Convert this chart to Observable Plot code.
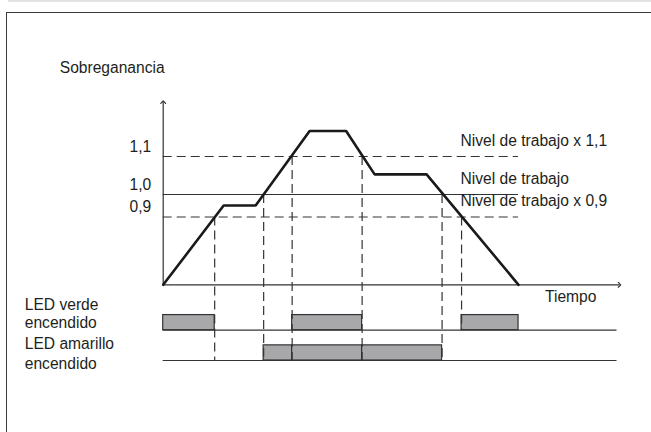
<!DOCTYPE html>
<html>
<head>
<meta charset="utf-8">
<script src="https://cdn.jsdelivr.net/npm/d3@7"></script>
<script src="https://cdn.jsdelivr.net/npm/@observablehq/plot@0.6"></script>
<style>
  html, body { margin: 0; padding: 0; background: #fff; }
  #wrap { position: relative; width: 651px; height: 432px; overflow: hidden; background: #fff; }
  #topline { position: absolute; left: 8px; right: 0; top: 0; height: 1.5px; background: #e2e2e2; }
  #frame { position: absolute; left: 6px; top: 12px; width: 720px; height: 520px;
           border-left: 1.6px solid #3a3a3a; border-top: 1.6px solid #3a3a3a; }
  #chart { position: absolute; left: 0; top: 0; }
</style>
</head>
<body>
<div id="wrap"><div id="topline"></div><div id="frame"></div><div id="chart"></div></div>
<script>
// ---- data (schematic units) ----
// Sobreganancia curve over time
const curveT = [0, 12.1, 18.5, 29.3, 36.6, 42.3, 52.7, 71.1];
const curveG = [0, 0.951, 0.951, 1.167, 1.167, 1.053, 1.053, 0];

// working levels
const levelValues = [0.9, 1.0, 1.1];
const levelTicks = ["0,9", "1,0", "1,1"];
const levelNames = ["Nivel de trabajo x 0,9", "Nivel de trabajo", "Nivel de trabajo x 1,1"];
const levelKind = ["umbral", "nominal", "umbral"];

// crossings of the curve with the levels
const crossT = [10.3, 20.1, 25.8, 39.8, 55.8, 59.7];
const crossLevel = [0.9, 1.0, 1.1, 1.1, 1.0, 0.9];
const crossLane = ["amarillo", "amarillo", "amarillo", "amarillo", "amarillo", "verde"];

// LED on-intervals
const ledVerdeStart = [0, 25.8, 59.7];
const ledVerdeEnd = [10.3, 39.8, 71.1];
const ledAmarilloStart = [20.1, 25.8, 39.8];
const ledAmarilloEnd = [25.8, 39.8, 55.8];

const curveEnd = 71.1;
const ledLineEnd = 90.8;
const axisXEnd = 91.3;
const axisYTop = 1.243;

// ---- derived tables ----
const lanes = {verde: {base: -0.6, top: -0.4}, amarillo: {base: -1.0, top: -0.8}};
const curve = curveT.map((t, i) => ({t, g: curveG[i]}));
const levels = levelValues.map((v, i) => ({v, tick: levelTicks[i], name: levelNames[i], kind: levelKind[i]}));
const crossings = crossT.map((t, i) => ({t, from: crossLevel[i], to: lanes[crossLane[i]].base}));
const leds = [
  ...ledVerdeStart.map((s, i) => ({lane: "verde", s, e: ledVerdeEnd[i]})),
  ...ledAmarilloStart.map((s, i) => ({lane: "amarillo", s, e: ledAmarilloEnd[i]}))
].map(d => ({...d, y1: lanes[d.lane].base, y2: lanes[d.lane].top}));

const ink = "#231f20";
const font = "Liberation Sans, Arial, Helvetica, sans-serif";
const fs = 15.6;

const chart = Plot.plot({
  width: 651,
  height: 432,
  margin: 0,
  style: {fontFamily: font, fontSize: fs + "px", background: "transparent", color: ink, overflow: "visible"},
  x: {domain: [0, axisXEnd], range: [162.7, 619], axis: null},
  y: {type: "linear", domain: [-1, 0, 0.9, 1.0, 1.1], range: [360, 284.3, 216.5, 194, 156], axis: null},
  marks: [
    // LED bars
    Plot.rect(leds, {x1: "s", x2: "e", y1: "y1", y2: "y2", fill: "#a8a8aa", stroke: "#333", strokeWidth: 1.2}),
    // LED baselines
    Plot.ruleY([lanes.verde.base, lanes.amarillo.base], {x1: 0, x2: ledLineEnd, stroke: "#333", strokeWidth: 1.2}),
    // vertical dashed guides
    Plot.ruleX(crossings, {x: "t", y1: "from", y2: "to", stroke: "#333", strokeWidth: 1.2, strokeDasharray: "9,5"}),
    // level lines
    Plot.ruleY(levels.filter(d => d.kind === "umbral"), {y: "v", x1: 0, x2: curveEnd, stroke: "#333", strokeWidth: 1.2, strokeDasharray: "9,5"}),
    Plot.ruleY(levels.filter(d => d.kind === "nominal"), {y: "v", x1: 0, x2: curveEnd, stroke: "#333", strokeWidth: 1.1}),
    // axes
    Plot.link([{x1: 0, y1: 0, x2: axisXEnd, y2: 0}], {x1: "x1", y1: "y1", x2: "x2", y2: "y2", stroke: "#333", strokeWidth: 1.2, markerEnd: "arrow"}),
    Plot.link([{x1: 0, y1: 0, x2: 0, y2: axisYTop}], {x1: "x1", y1: "y1", x2: "x2", y2: "y2", stroke: "#333", strokeWidth: 1.2, markerEnd: "arrow"}),
    // curve
    Plot.line(curve, {x: "t", y: "g", stroke: "#1a1a1a", strokeWidth: 2.6, strokeLinejoin: "miter"}),
    // level tick labels
    Plot.text(levels, {x: 0, y: "v", text: "tick", textAnchor: "end", dx: -12, dy: -10, fontSize: fs, fill: ink}),
    // level names
    Plot.text(levels, {x: 59.5, y: "v", text: "name", textAnchor: "start", dy: -16, fontSize: fs, fill: ink}),
    // titles
    Plot.text(["Sobreganancia"], {x: -20.7, y: 1.332, textAnchor: "start", fontSize: fs, fill: ink}),
    Plot.text(["Tiempo"], {x: 76.4, y: -0.164, textAnchor: "start", fontSize: fs, fill: ink}),
    Plot.text(["LED verde\nencendido"], {x: -27.7, y: -0.38, textAnchor: "start", lineHeight: 1.15, fontSize: fs, fill: ink}),
    Plot.text(["LED amarillo\nencendido"], {x: -27.7, y: -0.895, textAnchor: "start", lineHeight: 1.27, fontSize: fs, fill: ink})
  ]
});
document.getElementById("chart").appendChild(chart);
</script>
</body>
</html>
